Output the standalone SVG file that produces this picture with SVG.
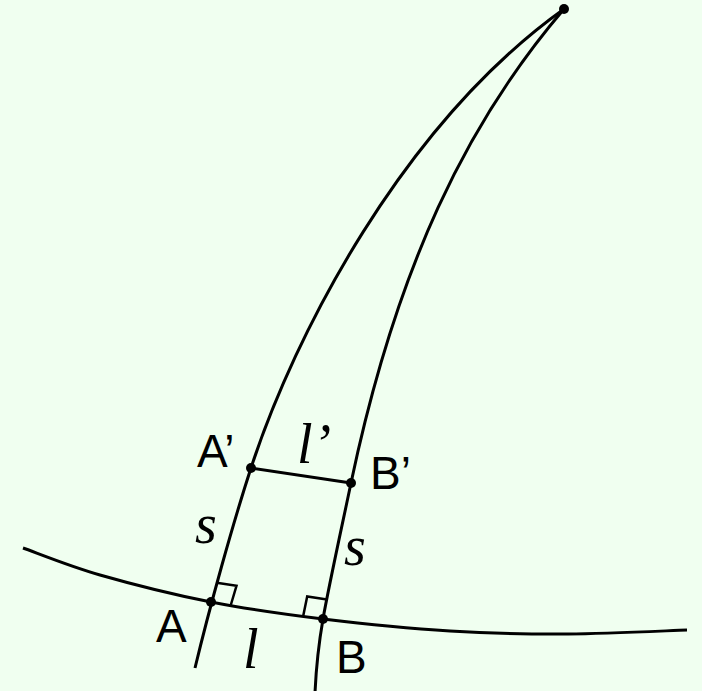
<svg xmlns="http://www.w3.org/2000/svg" width="702" height="691" viewBox="0 0 702 691">
<style>
.ln{fill:none;stroke:#000;stroke-width:3;stroke-linecap:butt;stroke-linejoin:round}
.sq{fill:none;stroke:#000;stroke-width:2.5;stroke-linejoin:miter}
.dot{fill:#000}
.lab{font-family:"Liberation Sans",Arial,Helvetica,sans-serif;font-size:46px;fill:#000}
.var{font-family:"Liberation Serif","Times New Roman",Times,serif;font-style:italic;font-size:56px;fill:#000}
</style>
<rect x="0" y="0" width="702" height="691" fill="#f0fff0"/>
<g id="connectors">
<path id="left-geodesic" class="ln" d="M564,9 C402,125 294.4,335 251,468 C232.4,525 209,609.7 195,668"/>
<path id="right-geodesic" class="ln" d="M564,9 C466.5,123 396.3,267.6 351,483 C340.7,532 328,590 323,619 C318.5,645 316,670 315,693"/>
<path id="base-curve" class="ln" d="M23,548 C35.8,552.5 68.7,566 100,575 C131.3,584 173.8,594.7 211,602 C248.2,609.3 283.2,614.2 323,619 C362.8,623.8 409.2,628.5 450,631 C490.8,633.5 528.5,634.2 568,634 C607.5,633.8 667.2,630.7 687,630"/>
<path id="segment-AB-prime" class="ln" d="M251,468 L351,483"/>
<path id="right-angle-A" class="sq" d="M216.7,582.8 L236.5,585.8 L230.8,605"/>
<path id="right-angle-B" class="sq" d="M327,599.4 L307.2,596.4 L303.2,616"/>
</g>
<g id="apex"><circle class="dot" cx="564" cy="9" r="5"/></g>
<g id="A-prime"><circle class="dot" cx="251" cy="468" r="5"/><text class="lab" x="197" y="467">A’</text></g>
<g id="B-prime"><circle class="dot" cx="351" cy="483" r="5"/><text class="lab" x="370" y="489">B’</text></g>
<g id="A"><circle class="dot" cx="211" cy="602" r="5"/><text class="lab" x="156" y="642">A</text></g>
<g id="B"><circle class="dot" cx="323" cy="619" r="5"/><text class="lab" x="336" y="673">B</text></g>
<g id="labels">
<text class="var" x="297" y="463">l’</text>
<text class="var" x="243" y="668">l</text>
<text class="var" x="195" y="543">s</text>
<text class="var" x="344" y="565">s</text>
</g>
</svg>
